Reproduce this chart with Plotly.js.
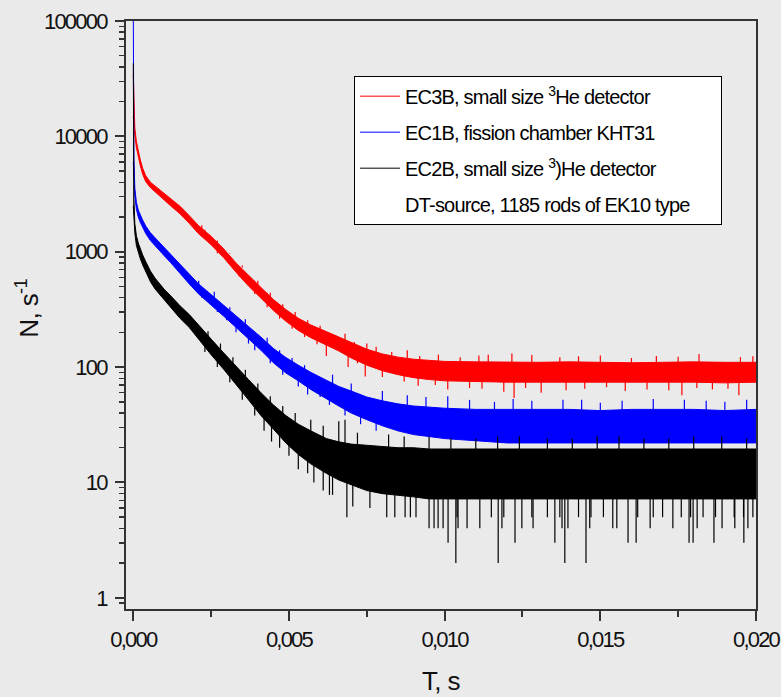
<!DOCTYPE html>
<html>
<head>
<meta charset="utf-8">
<script src="https://cdn.plot.ly/plotly-3.0.1.min.js"></script>
<style>
html,body{margin:0;padding:0;background:#EAEAEA;}
#chart{width:781px;height:697px;}
#chart .xtick text, #chart .ytick text{letter-spacing:-1.8px;}
#chart .legendtext{letter-spacing:-0.8px;}
#chart .g-xtitle text, #chart .annotation-text{letter-spacing:-0.6px;}
</style>
</head>
<body>
<div id="chart"></div>
<script>
// ---- data ----
const T = [0, 0.00002, 0.00005, 0.0001, 0.00016, 0.00022, 0.0003, 0.0004, 0.00055, 0.0007, 0.00086, 0.001, 0.0012, 0.0015, 0.0018, 0.0021, 0.0025, 0.0029, 0.0033, 0.0037, 0.0041, 0.0045, 0.0049, 0.0053, 0.0057, 0.0062, 0.0066, 0.007, 0.0075, 0.008, 0.0085, 0.009, 0.0095, 0.01, 0.011, 0.012, 0.013, 0.014, 0.015, 0.016, 0.017, 0.018, 0.019, 0.02];

const redHi = [35000, 16000, 11800, 9000, 7400, 6350, 5300, 4550, 4000, 3700, 3450, 3200, 2900, 2480, 2050, 1680, 1360, 1060, 800, 620, 490, 385, 315, 265, 232, 203, 182, 162, 143, 130, 122, 117, 114, 112, 111, 110, 110, 111, 110, 109, 110, 111, 110, 110];
const redLo = [15000, 13000, 10200, 8000, 6600, 5650, 4700, 4050, 3600, 3300, 3050, 2800, 2500, 2130, 1760, 1430, 1150, 890, 665, 505, 395, 310, 250, 208, 180, 155, 138, 120, 104, 93, 86, 81, 78, 76, 75, 74, 73, 74, 74, 73, 74, 74, 73, 74];

const blueHi = [120000, 6500, 3550, 2680, 2300, 2090, 1880, 1670, 1460, 1320, 1190, 1090, 960, 790, 640, 525, 425, 345, 280, 225, 182, 145, 121, 104, 90, 77, 68, 62, 55, 51, 48, 46, 45, 44, 43, 43, 43, 43, 42, 43, 43, 43, 42, 43];
const blueLo = [6000, 5000, 3050, 2330, 2000, 1810, 1620, 1440, 1250, 1120, 1010, 920, 805, 655, 525, 430, 345, 277, 222, 176, 140, 109, 89, 76, 64, 53, 46, 40, 35, 31, 28, 26, 25, 24, 23, 22, 22, 22, 22, 22, 22, 22, 22, 22];

const blackHi = [43000, 2900, 1750, 1380, 1190, 1070, 940, 820, 680, 590, 520, 470, 415, 340, 285, 230, 175, 133, 101, 78, 60, 47, 38, 32, 28, 24, 22.5, 21.5, 21, 20.5, 20, 20, 19.5, 19.5, 19.5, 19.5, 19.5, 19.5, 19.5, 19.5, 19.5, 19.5, 19.5, 19.5];
const blackLo = [2500, 2300, 1450, 1130, 980, 880, 770, 665, 550, 475, 415, 375, 330, 265, 220, 175, 128, 96, 71, 52, 38, 29, 22, 17.5, 14.5, 12, 10.5, 9.5, 8.5, 8, 7.8, 7.5, 7.2, 7.2, 7.2, 7.2, 7.2, 7.2, 7.2, 7.2, 7.2, 7.2, 7.2, 7.2];

// noise spikes reaching beyond the dense band
const redSpikeT = [0.0065, 0.0071, 0.0083, 0.0092, 0.0105, 0.0114, 0.01216, 0.0137, 0.0150, 0.0160, 0.01817, 0.0195, 0.0062, 0.0069, 0.00745, 0.0080, 0.00915, 0.0101, 0.0108, 0.0119, 0.01223, 0.0131, 0.0145, 0.0158, 0.01762, 0.0186, 0.01945,
  0.0022, 0.0027, 0.0031, 0.0035, 0.0040, 0.0044, 0.0048, 0.0052, 0.0056, 0.0060, 0.0068, 0.0075, 0.0078, 0.0088, 0.0098, 0.0111, 0.0128, 0.0143, 0.0168, 0.0175, 0.0199,
  0.0023, 0.0028, 0.0034, 0.0039, 0.0043, 0.0047, 0.0051, 0.0055, 0.0059, 0.0072, 0.0087, 0.0097, 0.0112, 0.0126, 0.0139, 0.0152, 0.0165, 0.0172, 0.0181, 0.0191];
const redSpikeN = [190, 165, 135, 125, 122, 128, 131, 122, 126, 120, 130, 122, 125, 100, 83, 82, 69, 64, 66, 61, 54, 60, 65, 62, 57, 64, 57,
  1700, 1250, 960, 760, 560, 440, 350, 300, 255, 228, 195, 160, 150, 140, 128, 126, 127, 124, 125, 123, 124,
  1320, 940, 610, 430, 330, 262, 215, 182, 158, 108, 75, 70, 65, 66, 63, 67, 64, 63, 66, 65];

const blueSpikeT = [0.0074, 0.0101, 0.0116, 0.0138, 0.0150, 0.0167, 0.0177, 0.0190, 0.0030, 0.0039, 0.0053, 0.0060,
  0.0021, 0.0026, 0.0031, 0.0036, 0.0043, 0.0047, 0.0051, 0.0055, 0.0064, 0.0070, 0.0080, 0.0088, 0.0094, 0.0108, 0.0122, 0.0128, 0.0144, 0.0157, 0.0184, 0.0197,
  0.0022, 0.0027, 0.0033, 0.0037, 0.0044, 0.0048, 0.0056, 0.0063, 0.0068, 0.0073, 0.0078];
const blueSpikeN = [54, 56, 50, 52, 49, 53, 52, 50, 255, 140, 68, 55,
  560, 450, 330, 260, 180, 140, 120, 104, 86, 72, 62, 57, 55, 52, 53, 51, 52, 51, 51, 52,
  400, 300, 200, 160, 108, 86, 58, 47, 38, 32, 28];

const blackSpikeT = [0.0066, 0.0068, 0.0082, 0.0095, 0.0110, 0.0124, 0.0141, 0.0156, 0.0172, 0.0189,
  0.00444, 0.0050, 0.0056, 0.0063, 0.0064, 0.00686, 0.00705, 0.0076, 0.00814, 0.0084, 0.00873, 0.00908, 0.0095, 0.00966, 0.00979, 0.00995, 0.01011, 0.01036, 0.01043, 0.01072, 0.01113, 0.01172, 0.01184, 0.01226, 0.01248, 0.0128, 0.01284, 0.0133, 0.01354, 0.01377, 0.01386, 0.01396, 0.0147, 0.01454, 0.01466, 0.0154, 0.01553, 0.01589, 0.01615, 0.0162, 0.0166, 0.0170, 0.01733, 0.0179, 0.01785, 0.01798, 0.01811, 0.01865, 0.01891, 0.0193, 0.01932, 0.01961, 0.01974, 0.0199,
  0.0024, 0.0028, 0.0032, 0.0036, 0.0040, 0.0044, 0.0048, 0.0052, 0.0057, 0.0061, 0.0072, 0.0087, 0.0102, 0.0117, 0.0133, 0.0149, 0.0164, 0.0180, 0.0197,
  0.0023, 0.0027, 0.0031, 0.0035, 0.0039, 0.0042, 0.0047, 0.0053, 0.0058, 0.0061, 0.0089, 0.0104, 0.0115, 0.0119, 0.0137, 0.0143, 0.0151, 0.0167, 0.0176, 0.0183, 0.0187, 0.0196];
const blackSpikeN = [34, 35, 26, 25, 24, 25, 24, 25, 24, 25,
  22.6, 17, 12, 7.8, 7.8, 5, 6.2, 6, 5, 5, 5, 5, 4, 4, 4, 4, 3, 2, 4, 4, 4, 2, 4, 3, 4, 5, 4, 5, 3, 4, 2, 4, 5, 2, 4, 4, 4, 3, 3, 5, 4, 5, 4, 5, 3, 3, 4, 3, 4, 5, 4, 3, 4, 5,
  205, 160, 122, 95, 72, 56, 46, 40, 35, 31, 27, 25, 24, 25, 24, 25, 24, 25, 24,
  135, 100, 74, 52, 38, 28, 20, 13, 10, 8.5, 5, 5, 5, 5, 5, 5, 5, 5, 5, 5, 5, 5];

const legendNames = ['EC3B, small size <sup>3</sup>He detector', 'EC1B, fission chamber KHT31', 'EC2B, small size <sup>3</sup>)He detector', 'DT-source, 1185 rods of EK10 type'];
const colors = ['#FF0000', '#0000FF', '#000000'];

const xTicks = [0, 0.005, 0.01, 0.015, 0.02];
const yTicks = [1, 10, 100, 1000, 10000, 100000];
const yTickText = ['1', '10', '100', '1000', '10000', '100000'];
const xTitle = 'T, s';
const yTitle = 'N, s<sup>-1</sup>';

// ---- build traces ----
function band(hi, lo, color) {
  return {x: T.concat(T.slice().reverse()), y: hi.concat(lo.slice().reverse()),
    type: 'scatter', mode: 'lines', fill: 'toself', fillcolor: color,
    line: {color: color, width: 1}, showlegend: false, hoverinfo: 'skip'};
}
function spikes(hi, lo, st, sn, color) {
  const x = [], y = [];
  st.forEach((t, k) => {
    let best = 0;
    T.forEach((tt, i) => { if (Math.abs(tt - t) < Math.abs(T[best] - t)) best = i; });
    const base = Math.sqrt(hi[best] * lo[best]);
    x.push(t, t, null); y.push(base, sn[k], null);
  });
  return {x, y, type: 'scatter', mode: 'lines', line: {color: color, width: 1.2}, showlegend: false, hoverinfo: 'skip'};
}
const data = [
  band(redHi, redLo, colors[0]), spikes(redHi, redLo, redSpikeT, redSpikeN, colors[0]),
  band(blueHi, blueLo, colors[1]), spikes(blueHi, blueLo, blueSpikeT, blueSpikeN, colors[1]),
  band(blackHi, blackLo, colors[2]), spikes(blackHi, blackLo, blackSpikeT, blackSpikeN, colors[2])
];
legendNames.forEach((nm, i) => {
  data.push({x: [null], y: [null], type: 'scatter', mode: 'lines', name: nm, legendgroup: 'g' + i,
    line: {color: i < 3 ? colors[i] : 'rgba(0,0,0,0)', width: 1}});
});

const minorY = [0.9];
[1, 10, 100, 1000, 10000].forEach(d => { for (let k = 2; k <= 9; k++) minorY.push(d * k); });

const FONT = 'Liberation Sans, Arial, sans-serif';
const layout = {
  width: 781, height: 697,
  margin: {l: 126, r: 25, t: 21, b: 88},
  paper_bgcolor: '#EAEAEA', plot_bgcolor: '#EAEAEA',
  separators: ',.',
  font: {family: FONT, color: '#000'},
  showlegend: true,
  legend: {x: 0.362, y: 0.907, xanchor: 'left', yanchor: 'top', bgcolor: '#FFFFFF', bordercolor: '#000', borderwidth: 1,
    font: {family: FONT, size: 20, color: '#000'}, itemwidth: 40, tracegroupgap: 7, traceorder: 'grouped'},
  xaxis: {range: [-0.000234, 0.0200001], tickvals: xTicks, tickformat: '.3f', ticks: 'outside', ticklen: 10, tickwidth: 2, tickcolor: '#333',
    showline: true, linewidth: 2, linecolor: '#333', mirror: true, showgrid: false, zeroline: false, ticklabeloverflow: 'allow',
    minor: {dtick: 0.0025, ticks: 'outside', ticklen: 6, tickwidth: 2, tickcolor: '#333', showgrid: false},
    tickfont: {family: FONT, size: 22, color: '#111'},
    title: {text: xTitle, font: {family: FONT, size: 26, color: '#111'}, standoff: 20}},
  yaxis: {type: 'log', range: [Math.log10(0.8), 5], tickvals: yTicks, ticktext: yTickText, ticks: 'outside', ticklen: 9, tickwidth: 2, tickcolor: '#333',
    showline: true, linewidth: 2, linecolor: '#333', mirror: true, showgrid: false, zeroline: false,
    minor: {tickvals: minorY, ticks: 'outside', ticklen: 5, tickwidth: 1.5, tickcolor: '#333', showgrid: false},
    tickfont: {family: FONT, size: 22, color: '#111'}, ticklabelstandoff: 4},
  annotations: [{text: yTitle, textangle: -90, xref: 'paper', yref: 'paper', x: -0.1556, y: 0.511,
    xanchor: 'center', yanchor: 'middle', showarrow: false, font: {family: FONT, size: 26, color: '#111'}}]
};
Plotly.newPlot('chart', data, layout, {displayModeBar: false, staticPlot: true});
</script>
</body>
</html>
